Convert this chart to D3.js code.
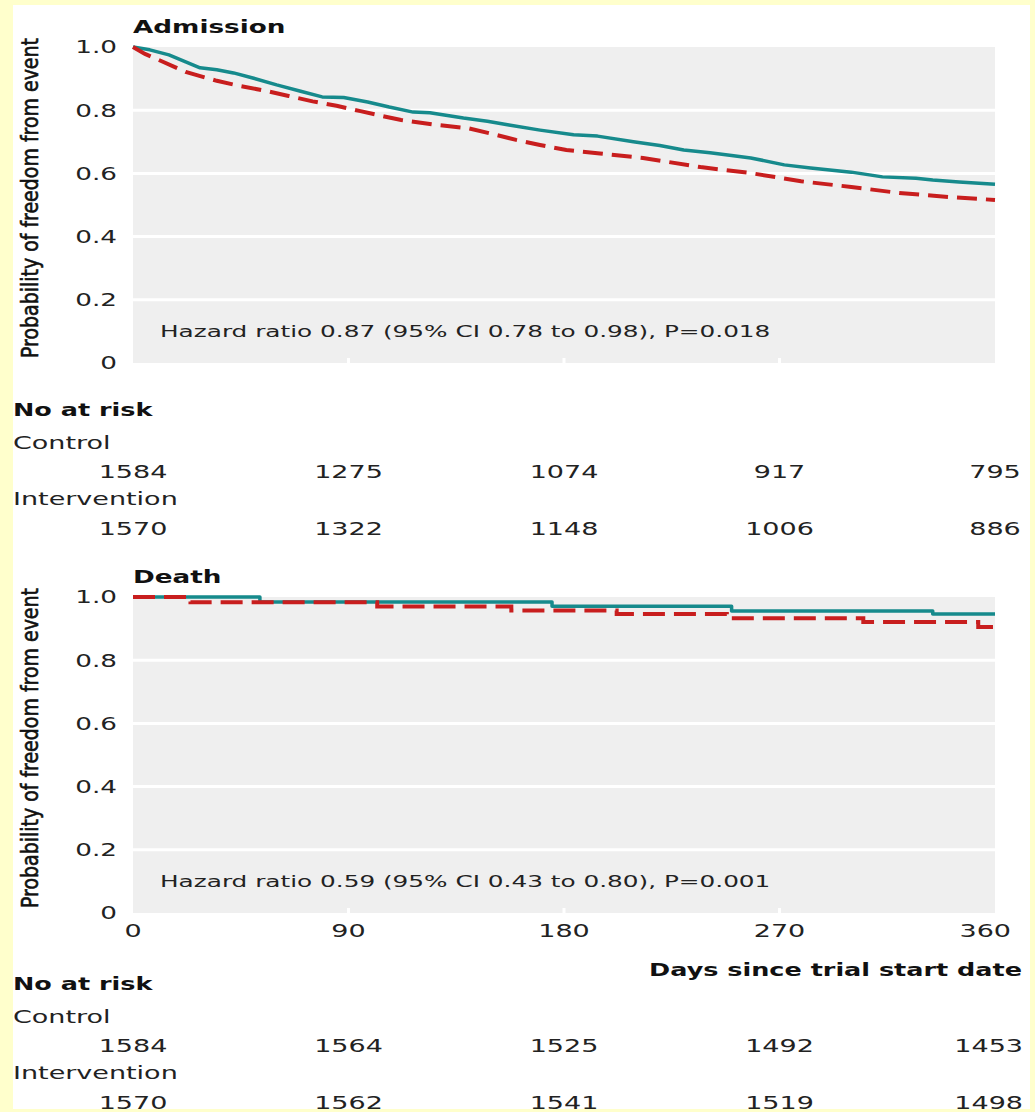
<!DOCTYPE html>
<html>
<head>
<meta charset="utf-8">
<script src="https://cdn.jsdelivr.net/npm/d3@7"></script>
<style>
  html, body { margin: 0; padding: 0; background: #ffffcc; }
  svg { display: block; }
</style>
</head>
<body>
<script>
// ---------------- DATA ----------------
const xTicks = [0, 90, 180, 270, 360];
const xTickLabels = ["0", "90", "180", "270", "360"];
const yTicks = [0, 0.2, 0.4, 0.6, 0.8, 1.0];
const yTickLabels = ["0", "0.2", "0.4", "0.6", "0.8", "1.0"];

// Admission – intervention (solid teal)
const admIntDays = [0,7,15,22,28,35,42,50,60,70,79,88,98,107,117,124,138,148,157,170,184,194,209,220,230,241,250,258,272,283,300,313,327,334,345,360];
const admIntSurv = [1.0,0.991,0.975,0.953,0.934,0.928,0.918,0.902,0.880,0.860,0.842,0.840,0.826,0.810,0.794,0.792,0.775,0.765,0.753,0.737,0.722,0.718,0.700,0.688,0.674,0.665,0.657,0.649,0.627,0.617,0.604,0.589,0.585,0.579,0.573,0.566];
// Admission – control (dashed red)
const admCtlDays = [0,5,12,22,35,45,55,65,75,85,95,105,112,125,140,150,160,170,181,195,213,237,258,279,300,320,341,360];
const admCtlSurv = [1.0,0.978,0.955,0.921,0.893,0.876,0.862,0.845,0.828,0.814,0.797,0.780,0.769,0.755,0.743,0.725,0.706,0.690,0.674,0.663,0.649,0.620,0.601,0.575,0.557,0.538,0.525,0.516];

// Death – intervention (solid teal, steps)
const deathIntDays = [0,53,175,250,334,360];
const deathIntSurv = [1.0,0.984,0.971,0.956,0.946,0.946];
// Death – control (dashed red, steps)
const deathCtlDays = [0,24,102,158,202,248,305,353,360];
const deathCtlSurv = [1.0,0.983,0.970,0.957,0.946,0.933,0.921,0.905,0.905];

// Numbers at risk
const riskDays = [0, 90, 180, 270, 360];
const admCtlRisk = [1584, 1275, 1074, 917, 795];
const admIntRisk = [1570, 1322, 1148, 1006, 886];
const deathCtlRisk = [1584, 1564, 1525, 1492, 1453];
const deathIntRisk = [1570, 1562, 1541, 1519, 1498];

const panelTitles = ["Admission", "Death"];
const hazardTexts = [
  "Hazard ratio 0.87 (95% CI 0.78 to 0.98), P=0.018",
  "Hazard ratio 0.59 (95% CI 0.43 to 0.80), P=0.001"
];
const yAxisTitle = "Probability of freedom from event";
const xAxisTitle = "Days since trial start date";

// ---------------- LAYOUT ----------------
const W = 1035, H = 1112;
const SX = 1.5;           // horizontal glyph stretch of reference typography
const TEAL = "#168a8c", RED = "#c81e1e";
const FONT = "'DejaVu Sans', Verdana, sans-serif";

const svg = d3.select("body").append("svg").attr("width", W).attr("height", H);
svg.append("rect").attr("width", W).attr("height", H).attr("fill", "#ffffcc");
svg.append("rect").attr("x", 13).attr("y", 5).attr("width", 1017).attr("height", 1104).attr("fill", "#ffffff");

const x = d3.scaleLinear().domain([0, 360]).range([133, 995]);

function txt(parent, px, py, str, o) {
  o = o || {};
  const g = parent.append("g").attr("transform", `translate(${px},${py}) scale(${SX},1)`);
  const t = g.append("text")
    .attr("font-family", FONT)
    .attr("font-size", o.size || 17)
    .attr("font-weight", o.bold ? "bold" : "normal")
    .attr("fill", o.fill || "#111")
    .attr("text-anchor", o.anchor || "start")
    .attr("dy", o.dy || 0)
    .text(str);
  if (o.maxRight !== undefined) {
    const w = t.node().getComputedTextLength() * SX;
    let right = px + (o.anchor === "middle" ? w / 2 : (o.anchor === "end" ? 0 : w));
    if (right > o.maxRight) {
      g.attr("transform", `translate(${px - (right - o.maxRight)},${py}) scale(${SX},1)`);
    }
  }
  return t;
}

function panel(top, title, hazard, ctlDays, ctlSurv, intDays, intSurv, curve, dash, showX) {
  const bottom = top + 316;
  const y = d3.scaleLinear().domain([0, 1]).range([bottom, top]);
  const g = svg.append("g");

  g.append("rect").attr("x", x(0)).attr("y", y(1)).attr("width", x(360) - x(0)).attr("height", y(0) - y(1))
    .attr("fill", "#efefef");

  // horizontal white gridlines
  g.selectAll("line.grid").data(yTicks.filter(d => d > 0 && d < 1)).enter().append("line")
    .attr("x1", x(0)).attr("x2", x(360)).attr("y1", d => y(d)).attr("y2", d => y(d))
    .attr("stroke", "#fff").attr("stroke-width", 3);

  // small white tick notches at panel bottom
  g.selectAll("line.notch").data(xTicks.filter(d => d > 0 && d < 360)).enter().append("line")
    .attr("x1", d => x(d)).attr("x2", d => x(d)).attr("y1", y(0)).attr("y2", y(0) - 5)
    .attr("stroke", "#fff").attr("stroke-width", 3);

  // y tick labels
  yTicks.forEach((v, i) => txt(g, 117, y(v), yTickLabels[i], { anchor: "end", size: 17.5, dy: "0.36em", fill: "#222" }));

  // title
  txt(g, 133, top - 14, title, { bold: true, size: 17.5 });

  // y axis title (condensed, semi-heavy)
  g.append("text")
    .attr("transform", `translate(38,${top + 151}) rotate(-90)`)
    .attr("font-family", "'DejaVu Sans Condensed', 'Liberation Sans Narrow', 'DejaVu Sans', sans-serif")
    .attr("font-size", 23)
    .attr("fill", "#111")
    .attr("stroke", "#111")
    .attr("stroke-width", 0.6)
    .attr("text-anchor", "middle")
    .attr("textLength", 320)
    .attr("lengthAdjust", "spacingAndGlyphs")
    .text(yAxisTitle);

  // hazard ratio text
  txt(g, 160, top + 290, hazard, { size: 16.5, fill: "#222" });

  const line = d3.line().x(d => x(d[0])).y(d => y(d[1])).curve(curve);

  g.append("path").datum(intDays.map((d, i) => [d, intSurv[i]]))
    .attr("d", line).attr("fill", "none").attr("stroke", TEAL).attr("stroke-width", 3.5)
    .attr("stroke-linejoin", "round");
  g.append("path").datum(ctlDays.map((d, i) => [d, ctlSurv[i]]))
    .attr("d", line).attr("fill", "none").attr("stroke", RED).attr("stroke-width", 4)
    .attr("stroke-dasharray", dash);

  if (showX) {
    xTicks.forEach((d, i) => txt(g, x(d), bottom + 24, xTickLabels[i], { anchor: "middle", size: 18, fill: "#222", maxRight: 1011 }));
    txt(g, 1022, bottom + 63, xAxisTitle, { anchor: "end", bold: true, size: 17 });
  }
  return g;
}

function riskTable(base, ctl, itv) {
  const g = svg.append("g");
  txt(g, 13, base, "No at risk", { bold: true, size: 17 });
  txt(g, 13, base + 33, "Control", { size: 18, fill: "#222" });
  riskDays.forEach((d, i) => txt(g, x(d), base + 62, String(ctl[i]), { anchor: "middle", size: 18, fill: "#222", maxRight: 1023 }));
  txt(g, 13, base + 89, "Intervention", { size: 18, fill: "#222" });
  riskDays.forEach((d, i) => txt(g, x(d), base + 119, String(itv[i]), { anchor: "middle", size: 18, fill: "#222", maxRight: 1023 }));
}

panel(47, panelTitles[0], hazardTexts[0], admCtlDays, admCtlSurv, admIntDays, admIntSurv, d3.curveLinear, "20,9", false);
riskTable(416, admCtlRisk, admIntRisk);
panel(597, panelTitles[1], hazardTexts[1], deathCtlDays, deathCtlSurv, deathIntDays, deathIntSurv, d3.curveStepAfter, "22,9", true);
riskTable(990, deathCtlRisk, deathIntRisk);

// yellow frame drawn on top (clips bottom row like the reference)
svg.append("rect").attr("x", 0).attr("y", 1109).attr("width", W).attr("height", 3).attr("fill", "#ffffcc");
svg.append("rect").attr("x", 1030).attr("y", 0).attr("width", 5).attr("height", H).attr("fill", "#ffffcc");
</script>
</body>
</html>
